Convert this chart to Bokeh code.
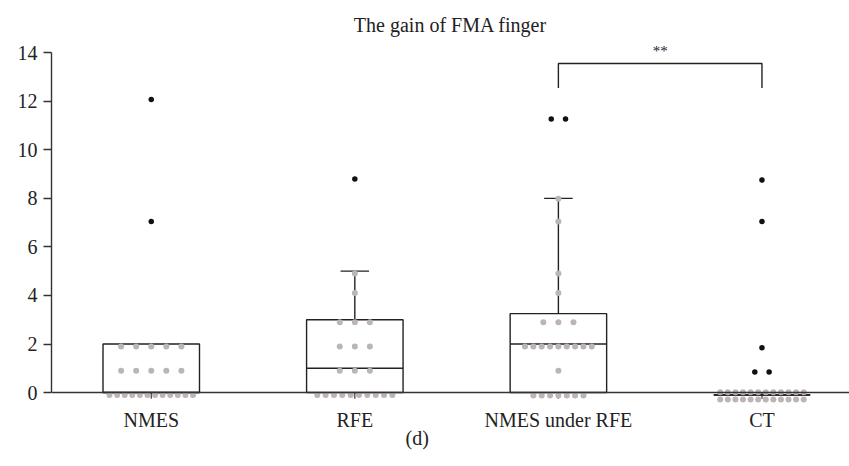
import numpy as np
from bokeh.plotting import figure
from bokeh.models import FixedTicker, Range1d, Label, Span, Title
from bokeh.embed import file_html
from bokeh.resources import INLINE

# ---------------- data ----------------
categories = ["NMES", "RFE", "NMES under RFE", "CT"]
title_text = "The gain of FMA finger"
panel_label = "(d)"
y_ticks = [0, 2, 4, 6, 8, 10, 12, 14]

# individual (gray) points per group
points_nmes = [-0.1, -0.1, -0.1, -0.1, -0.1, -0.1, -0.1, -0.1, -0.1, -0.1, -0.1, -0.1,
               0.9, 0.9, 0.9, 0.9, 0.9,
               1.9, 1.9, 1.9, 1.9, 1.9]
points_rfe = [-0.1, -0.1, -0.1, -0.1, -0.1, -0.1, -0.1, -0.1, -0.1, -0.1,
              0.9, 0.9, 0.9,
              1.9, 1.9, 1.9,
              2.9, 2.9, 2.9,
              4.1, 4.9]
points_nmes_rfe = [-0.12, -0.12, -0.12, -0.12, -0.12, -0.12, -0.12,
                   0.9,
                   1.9, 1.9, 1.9, 1.9, 1.9, 1.9, 1.9, 1.9, 1.9,
                   2.9, 2.9, 2.9,
                   4.1, 4.9, 7.05, 7.98]
points_ct = [0.01, 0.01, 0.01, 0.01, 0.01, 0.01, 0.01, 0.01, 0.01, 0.01, 0.01, 0.01,
             -0.29, -0.29, -0.29, -0.29, -0.29, -0.29, -0.29, -0.29, -0.29, -0.29, -0.29, -0.29]

# outliers (black points)
outliers_nmes = [12.07, 7.05]
outliers_rfe = [8.8]
outliers_nmes_rfe = [11.27, 11.27]
outliers_ct = [8.75, 7.05, 1.85, 0.85, 0.85]

# box statistics
q1 = [0.0, 0.0, 0.0, -0.1]
median = [0.0, 1.0, 2.0, -0.1]
q3 = [2.0, 3.0, 3.25, -0.1]
whisker_low = [0.0, 0.0, 0.0, -0.1]
whisker_high = [2.0, 5.0, 8.0, -0.1]

# significance bracket
bracket_groups = ["NMES under RFE", "CT"]
bracket_top = 13.55
bracket_bottom = 12.54
bracket_text = "**"

# ---------------- helpers ----------------
def swarm_offsets(values):
    values = list(values)
    offs = [0.0] * len(values)
    uniq = []
    for v in values:
        if v not in uniq:
            uniq.append(v)
    for u in uniq:
        idx = [i for i, v in enumerate(values) if v == u]
        n = len(idx)
        s = 0.074 if n <= 5 else min(0.041, 0.41 / (n - 1))
        for k, i in enumerate(idx):
            offs[i] = (k - (n - 1) / 2) * s
    return offs

FONT = "Liberation Serif"
INK = "#222222"
AXC = "#333333"

p = figure(width=849, height=466, output_backend="svg", toolbar_location=None,
           x_range=Range1d(-0.49, 3.43), y_range=Range1d(-0.45, 14.5),
           min_border_left=51, min_border_right=0, min_border_top=40,
           min_border_bottom=63)
p.outline_line_color = None
p.xgrid.visible = False
p.ygrid.visible = False
p.background_fill_color = "white"
p.border_fill_color = "white"

p.title.text = title_text
p.title.align = "center"
p.title.text_font = FONT
p.title.text_font_style = "normal"
p.title.text_font_size = "20px"
p.title.text_color = INK

# panel label "(d)" below the axis
p.add_layout(Title(text=panel_label, align="left", offset=354, text_font=FONT,
                   text_font_style="normal", text_font_size="20px",
                   text_color=INK, standoff=-17), "below")

xpos = np.arange(len(categories), dtype=float)
half = 0.237
cap = 0.07

# x axis baseline at zero
p.add_layout(Span(location=0, dimension="width", line_color=AXC, line_width=1.4))
# category ticks hanging below the baseline
p.segment(x0=xpos, y0=0, x1=xpos, y1=-0.25, line_color=AXC, line_width=1.2)

# boxes
p.quad(left=xpos - half, right=xpos + half, bottom=q1, top=q3,
       fill_color="white", line_color=INK, line_width=1.4)
# whiskers
p.segment(x0=xpos, y0=q3, x1=xpos, y1=whisker_high, line_color=INK, line_width=1.4)
p.segment(x0=xpos, y0=q1, x1=xpos, y1=whisker_low, line_color=INK, line_width=1.4)
hi_mask = np.array(whisker_high) > np.array(q3)
p.segment(x0=(xpos - cap)[hi_mask], y0=np.array(whisker_high)[hi_mask],
          x1=(xpos + cap)[hi_mask], y1=np.array(whisker_high)[hi_mask],
          line_color=INK, line_width=1.4)
# medians
p.segment(x0=xpos - half, y0=median, x1=xpos + half, y1=median,
          line_color=INK, line_width=1.4)

# gray points
groups = [points_nmes, points_rfe, points_nmes_rfe, points_ct]
gx, gy = [], []
for i, pts in enumerate(groups):
    offs = swarm_offsets(pts)
    gx += [i + o for o in offs]
    gy += list(pts)
p.scatter(gx, gy, size=6, fill_color="#bdb5b5", line_color=None)

# outliers
ogroups = [outliers_nmes, outliers_rfe, outliers_nmes_rfe, outliers_ct]
ox, oy = [], []
for i, pts in enumerate(ogroups):
    offs = swarm_offsets(pts)
    ox += [i + (o * 0.95) for o in offs]
    oy += list(pts)
p.scatter(ox, oy, size=5.5, fill_color="#111111", line_color=None)

# bracket
b0 = categories.index(bracket_groups[0])
b1 = categories.index(bracket_groups[1])
p.line([b0, b0, b1, b1], [bracket_bottom, bracket_top, bracket_top, bracket_bottom],
       line_color=INK, line_width=1.4)
p.add_layout(Label(x=(b0 + b1) / 2, y=bracket_top + 0.2, text=bracket_text,
                   text_align="center", text_baseline="bottom",
                   text_font=FONT, text_font_size="15px", text_color=INK))

# axes
p.yaxis.ticker = FixedTicker(ticks=y_ticks)
p.yaxis.bounds = (0, 14)
p.yaxis.minor_tick_line_color = None
p.yaxis.major_tick_in = 0
p.yaxis.major_tick_out = 8
p.yaxis.major_label_standoff = 6
p.yaxis.axis_line_color = AXC
p.yaxis.major_tick_line_color = AXC
p.yaxis.axis_line_width = 1.4
p.yaxis.major_tick_line_width = 1.4
p.yaxis.major_label_text_font = FONT
p.yaxis.major_label_text_font_size = "20px"
p.yaxis.major_label_text_color = INK

p.xaxis.ticker = FixedTicker(ticks=list(range(len(categories))))
p.xaxis.major_label_overrides = {i: c for i, c in enumerate(categories)}
p.xaxis.minor_tick_line_color = None
p.xaxis.major_tick_line_color = None
p.xaxis.major_tick_in = 0
p.xaxis.major_tick_out = 0
p.xaxis.major_label_standoff = 5
p.xaxis.axis_line_color = None
p.xaxis.major_label_text_font = FONT
p.xaxis.major_label_text_font_size = "20px"
p.xaxis.major_label_text_color = INK

open("out.html", "w").write(file_html(p, INLINE))
